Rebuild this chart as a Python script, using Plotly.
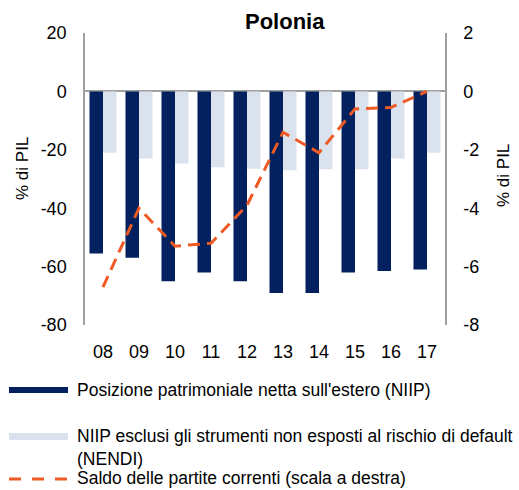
import plotly.graph_objects as go

# Data (% of GDP)
years = ["08", "09", "10", "11", "12", "13", "14", "15", "16", "17"]
niip = [-55.5, -57, -65, -62, -65, -69, -69, -62, -61.5, -61]
nendi = [-21, -23, -24.7, -26, -26.5, -27, -26.7, -26.7, -23, -21]
current_account = [-6.7, -4.0, -5.3, -5.2, -3.9, -1.4, -2.1, -0.6, -0.55, 0.0]

series_names = [
    "Posizione patrimoniale netta sull'estero (NIIP)",
    "NIIP esclusi gli strumenti non esposti al rischio di default<br>(NENDI)",
    "Saldo delle partite correnti (scala a destra)",
]
left_ticks = [20, 0, -20, -40, -60, -80]
left_labels = ["20", "0", "-20", "-40", "-60", "-80"]
right_ticks = [2, 0, -2, -4, -6, -8]
right_labels = ["2", "0", "-2", "-4", "-6", "-8"]

NAVY = "#02215E"
LIGHT = "#DAE2EE"
ORANGE = "#EE5A24"
AXIS_GREY = "#A0A0A0"
FONT = "Liberation Sans, Arial, sans-serif"

W, H = 519, 490
ML, MR, MT, MB = 85, 74, 33, 165
PW, PH = W - ML - MR, H - MT - MB


def px(x):
    return (x - ML) / PW


def py(y):
    return (H - MB - y) / PH


fig = go.Figure()
fig.add_trace(go.Bar(x=years, y=niip, name=series_names[0], marker_color=NAVY,
                     marker_line_width=0, showlegend=False))
fig.add_trace(go.Bar(x=years, y=nendi, name=series_names[1], marker_color=LIGHT,
                     marker_line_width=0, showlegend=False))
fig.add_trace(go.Scatter(x=years, y=current_account, name=series_names[2], yaxis="y2",
                         mode="lines", line=dict(color=ORANGE, width=3, dash="12px,7px"),
                         showlegend=False))

fig.update_layout(
    width=W, height=H,
    margin=dict(l=ML, r=MR, t=MT, b=MB),
    paper_bgcolor="white", plot_bgcolor="white",
    font=dict(family=FONT, size=18, color="black"),
    barmode="group", bargap=0.25, bargroupgap=0,
    xaxis=dict(showgrid=False, zeroline=False, showline=False,
               ticks="outside", ticklen=10, tickcolor="rgba(0,0,0,0)",
               tickfont=dict(size=18)),
    yaxis=dict(range=[-80, 20], tickvals=left_ticks, ticktext=left_labels, showgrid=False,
               zeroline=True, zerolinecolor=AXIS_GREY, zerolinewidth=2,
               showline=True, linecolor=AXIS_GREY, linewidth=1.5,
               ticks="outside", ticklen=13, tickcolor="rgba(0,0,0,0)",
               tickfont=dict(size=18)),
    yaxis2=dict(range=[-8, 2], tickvals=right_ticks, ticktext=right_labels,
                overlaying="y", side="right", showgrid=False, zeroline=False,
                showline=True, linecolor=AXIS_GREY, linewidth=1.5,
                ticks="outside", ticklen=13, tickcolor="rgba(0,0,0,0)",
                tickfont=dict(size=18)),
)

annotations = [
    dict(text="<b>Polonia</b>", x=px(285), y=py(22), font=dict(size=22)),
    dict(text="% di PIL", x=px(22), y=py(169), textangle=-90, font=dict(size=17)),
    dict(text="% di PIL", x=px(503), y=py(176), textangle=-90, font=dict(size=17)),
]
for a in annotations:
    a.update(xref="paper", yref="paper", showarrow=False, xanchor="center", yanchor="middle")

# Legend drawn below the plot
legend_items = [
    dict(text=series_names[0], y=390),
    dict(text=series_names[1], y=447),
    dict(text=series_names[2], y=478),
]
for item in legend_items:
    annotations.append(dict(text=item["text"], x=px(75), y=py(item["y"]), xref="paper",
                            yref="paper", showarrow=False, xanchor="left", yanchor="middle",
                            align="left", font=dict(size=17.5)))

shapes = [
    dict(type="rect", xref="paper", yref="paper", x0=px(9), x1=px(68),
         y0=py(393), y1=py(387), fillcolor=NAVY, line_width=0),
    dict(type="rect", xref="paper", yref="paper", x0=px(9), x1=px(68),
         y0=py(440), y1=py(433), fillcolor=LIGHT, line_width=0),
    dict(type="line", xref="paper", yref="paper", x0=px(9), x1=px(68),
         y0=py(479), y1=py(479), line=dict(color=ORANGE, width=3, dash="12px,11px")),
]

fig.update_layout(annotations=annotations, shapes=shapes)
fig.write_html("out.html")
